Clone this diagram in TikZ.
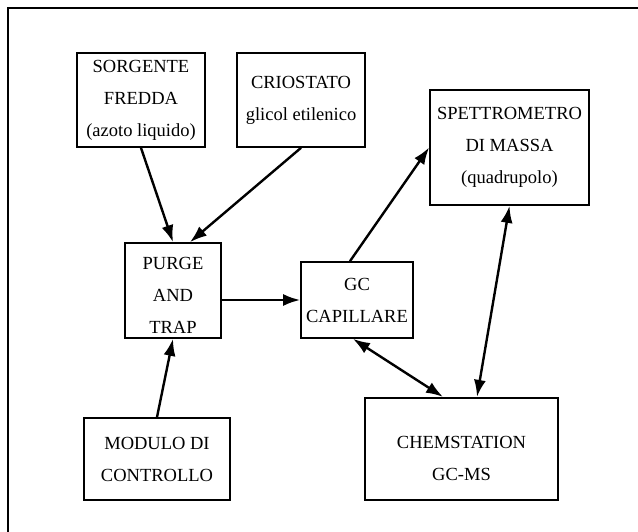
\documentclass[tikz,border=0pt]{standalone}
\usepackage{fontspec}
\setmainfont{Liberation Serif}
\usetikzlibrary{arrows.meta}
\newcommand{\blocco}[7][]{\node[draw, line width=1.7pt, align=center, inner sep=0pt, minimum width=#5pt, minimum height=#6pt, font=\fontsize{18.5}{32}\selectfont, #1] (#2) at ( #3 , #4 ) {#7};}
\tikzset{
  freccia/.style={line width=2.4pt, -{Latex[length=17pt,width=12pt]}},
  doppia/.style={line width=2.4pt, {Latex[length=17pt,width=12pt]}-{Latex[length=17pt,width=12pt]}}
}

\begin{document}
\begin{tikzpicture}[x=1pt,y=-1pt]
            \useasboundingbox (0,0) rectangle (638,532);
            % cornice
            \draw[line width=1.7pt] (8,532) -- (8,8) -- (638,8);

            % blocchi
            \blocco{sorg}{141}{100}{128}{94}{SORGENTE\\FREDDA\\(azoto liquido)}
            \blocco{crio}{301}{100}{128}{94}{CRIOSTATO\\glicol etilenico}
            \blocco{spet}{509.5}{147.5}{159}{115}{SPETTROMETRO\\DI MASSA\\(quadrupolo)}
            \blocco[text height=86pt]{purge}{173}{290.5}{96}{95}{PURGE\\AND\\TRAP}
            \blocco{gc}{357}{300}{112}{76}{GC\\CAPILLARE}
            \blocco{modulo}{157}{459}{146}{82}{MODULO DI\\CONTROLLO}
            \blocco[text height=63pt]{chem}{461.5}{449}{193}{102.5}{CHEMSTATION\\GC-MS}

            % frecce
            \draw[freccia] (sorg.south) -- (purge.north);
            \draw[freccia] (crio.south) -- ([xshift=17pt]purge.north);
            \draw[freccia] (modulo.north) -- (purge.south);
            \draw[freccia] (purge.east |- gc.west) -- (gc.west);
            \draw[freccia] ([xshift=-7pt]gc.north) -- (spet.west);
            \draw[doppia] ([xshift=-4pt]gc.south) -- ([xshift=-18.5pt]chem.north);
            \draw[doppia] (spet.south) -- ([xshift=15.5pt]chem.north);
        \end{tikzpicture}
\end{document}
